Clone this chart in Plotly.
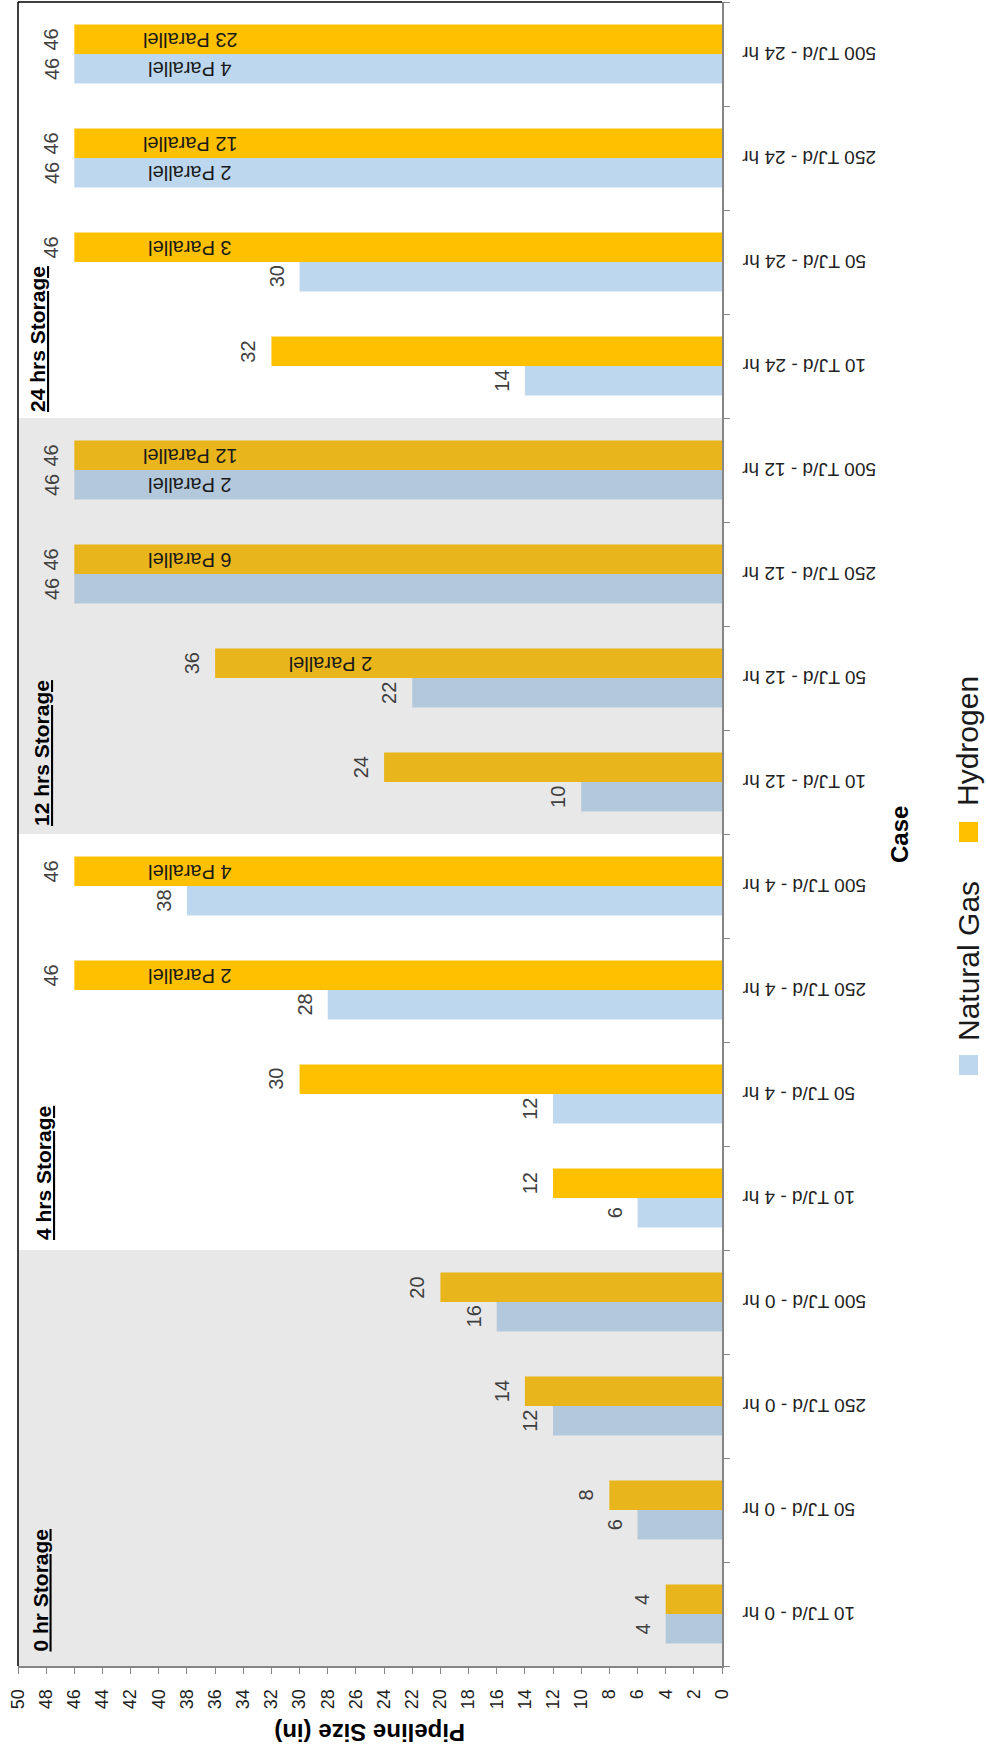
import plotly.graph_objects as go

# ---------------- data ----------------
categories = ["10 TJ/d - 0 hr", "50 TJ/d - 0 hr", "250 TJ/d - 0 hr", "500 TJ/d - 0 hr",
              "10 TJ/d - 4 hr", "50 TJ/d - 4 hr", "250 TJ/d - 4 hr", "500 TJ/d - 4 hr",
              "10 TJ/d - 12 hr", "50 TJ/d - 12 hr", "250 TJ/d - 12 hr", "500 TJ/d - 12 hr",
              "10 TJ/d - 24 hr", "50 TJ/d - 24 hr", "250 TJ/d - 24 hr", "500 TJ/d - 24 hr"]
natural_gas = [4, 6, 12, 16, 6, 12, 28, 38, 10, 22, 46, 46, 14, 30, 46, 46]
hydrogen = [4, 8, 14, 20, 12, 30, 46, 46, 24, 36, 46, 46, 32, 46, 46, 46]
ng_parallel = ["", "", "", "", "", "", "", "", "", "", "", "2 Parallel",
               "", "", "2 Parallel", "4 Parallel"]
h2_parallel = ["", "", "", "", "", "", "2 Parallel", "4 Parallel", "", "2 Parallel",
               "6 Parallel", "12 Parallel", "", "3 Parallel", "12 Parallel", "23 Parallel"]
storage_groups = ["0 hr Storage", "4 hrs Storage", "12 hrs Storage", "24 hrs Storage"]
shaded_groups = [True, False, True, False]
value_ticks = list(range(0, 51, 2))

# ---------------- style ----------------
FONT = "Liberation Sans"
NG_COLOR = "#BDD7EE"
H2_COLOR = "#FFC000"
AXIS_COLOR = "#868686"
W, H = 986, 1759
L, R, T, B = 18, 264, 2, 93          # plot area: x 18..722, y 2..1666
PW, PH = W - L - R, H - T - B
BAR_SHIFT = 14.75                    # px between category centre and bar centre
PAR_OFFSET = 8.2                     # value units from bar end to "Parallel" label centre


def xp(px):
    return (px - L) / PW


def yp(py):
    return (H - B - py) / PH


fig = go.Figure()
fig.add_trace(go.Bar(name="Natural Gas", orientation="h", y=categories, x=natural_gas,
                     marker=dict(color=NG_COLOR, line_width=0), hoverinfo="x+y"))
fig.add_trace(go.Bar(name="Hydrogen", orientation="h", y=categories, x=hydrogen,
                     marker=dict(color=H2_COLOR, line_width=0), hoverinfo="x+y"))

annotations = []
shapes = []

# category labels (upside down, right of the axis)
for cat in categories:
    annotations.append(dict(x=xp(740), y=cat, xref="paper", yref="y", text=cat,
                            textangle=180, xanchor="left", yanchor="middle",
                            showarrow=False,
                            font=dict(family=FONT, size=19, color="#222222")))

# value labels and parallel labels
for series, par, shift in ((natural_gas, ng_parallel, -BAR_SHIFT), (hydrogen, h2_parallel, BAR_SHIFT)):
    for cat, v, p in zip(categories, series, par):
        annotations.append(dict(x=v, y=cat, xref="x", yref="y", text=str(v), textangle=-90,
                                xanchor="right", yanchor="middle", xshift=-10, yshift=shift,
                                showarrow=False, font=dict(family=FONT, size=20, color="#404040")))
        if p:
            annotations.append(dict(x=v - PAR_OFFSET, y=cat, xref="x", yref="y", text=p,
                                    textangle=180, xanchor="center", yanchor="middle",
                                    yshift=shift, showarrow=False,
                                    font=dict(family=FONT, size=20, color="#1a1a1a")))

# shaded groups (overlay above bars)
for g, shaded in enumerate(shaded_groups):
    if shaded:
        shapes.append(dict(type="rect", xref="paper", yref="y", x0=0, x1=1,
                           y0=4 * g - 0.5, y1=4 * g + 3.5, layer="above",
                           fillcolor="rgba(140,140,140,0.2)", line=dict(width=0)))

# storage group labels
storage_pos = [(40, 1654), (43, 1242), (42, 828), (37, 414)]
for txt, (px, py) in zip(storage_groups, storage_pos):
    annotations.append(dict(x=xp(px), y=yp(py), xref="paper", yref="paper",
                            text="<b><u>" + txt + "</u></b>", textangle=-90,
                            xanchor="center", yanchor="bottom", showarrow=False,
                            font=dict(family=FONT, size=21, color="#000000")))

# plot-area frame (top and left, black)
shapes.append(dict(type="line", xref="paper", yref="paper", x0=0, x1=1, y0=1, y1=1,
                   line=dict(color="#000000", width=1.5)))
shapes.append(dict(type="line", xref="paper", yref="paper", x0=0, x1=0, y0=0, y1=1,
                   line=dict(color="#000000", width=1.5)))

# axis titles
annotations.append(dict(x=xp(370), y=yp(1733), xref="paper", yref="paper",
                        text="<b>Pipeline Size (in)</b>", textangle=180, showarrow=False,
                        xanchor="center", yanchor="middle",
                        font=dict(family=FONT, size=24, color="#000000")))
annotations.append(dict(x=xp(899), y=yp(835), xref="paper", yref="paper",
                        text="<b>Case</b>", textangle=-90, showarrow=False,
                        xanchor="center", yanchor="middle",
                        font=dict(family=FONT, size=24, color="#000000")))

# legend (rotated)
legend_items = [("Natural Gas", NG_COLOR, 1065, 961), ("Hydrogen", H2_COLOR, 832, 741)]
for name, col, sq_y, txt_y in legend_items:
    shapes.append(dict(type="rect", xref="paper", yref="paper",
                       x0=xp(959), x1=xp(978), y0=yp(sq_y + 10), y1=yp(sq_y - 10),
                       fillcolor=col, line=dict(width=0)))
    annotations.append(dict(x=xp(968), y=yp(txt_y), xref="paper", yref="paper",
                            text=name, textangle=-90, showarrow=False,
                            xanchor="center", yanchor="middle",
                            font=dict(family=FONT, size=30, color="#1a1a1a")))

fig.update_layout(
    width=W, height=H,
    margin=dict(l=L, r=R, t=T, b=B, pad=0),
    paper_bgcolor="white", plot_bgcolor="white",
    barmode="group", bargap=0.432, bargroupgap=0,
    showlegend=False,
    font=dict(family=FONT, color="#222222"),
    annotations=annotations, shapes=shapes,
    xaxis=dict(range=[50, 0], tickvals=value_ticks, ticks="outside", ticklen=6,
               tickcolor=AXIS_COLOR, tickangle=-90, showline=True, linecolor=AXIS_COLOR,
               linewidth=2, showgrid=False, zeroline=False, ticklabelstandoff=8,
               tickfont=dict(family=FONT, size=18, color="#222222")),
    yaxis=dict(type="category", categoryorder="array", categoryarray=categories,
               range=[-0.5, 15.5], side="right", ticks="outside", ticklen=6,
               tickcolor=AXIS_COLOR, tickson="boundaries", showline=True,
               linecolor=AXIS_COLOR, linewidth=2, showgrid=False, showticklabels=False),
)

fig.write_html("out.html", config={"displayModeBar": False},
               post_script="document.body.style.margin='0';")
